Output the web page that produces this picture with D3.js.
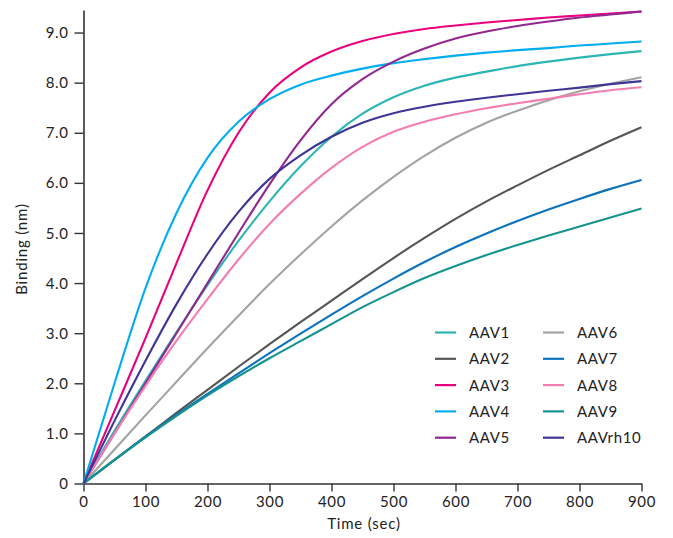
<!DOCTYPE html>
<html>
<head>
<meta charset="utf-8">
<script src="https://cdn.jsdelivr.net/npm/d3@7/dist/d3.min.js"></script>
<style>
  html, body { margin: 0; padding: 0; background: #fff; }
  svg { display: block; font-family: "Lato", "Inter", sans-serif; }
</style>
</head>
<body>
<svg id="chart" width="673" height="538"></svg>
<script>
// ---- data ----
const times = [0, 50, 100, 150, 200, 250, 300, 350, 400, 450, 500, 550, 600, 650, 700, 750, 800, 850, 900];
const seriesNames = ["AAV1", "AAV2", "AAV3", "AAV4", "AAV5", "AAV6", "AAV7", "AAV8", "AAV9", "AAVrh10"];
const seriesColors = ["#2bb5b3", "#555555", "#e8007d", "#00aeef", "#92278f", "#a3a3a3", "#0b72bd", "#f27eb1", "#14938f", "#3e3594"];
const aav1 = [0, 1.05, 2.05, 3.02, 3.96, 4.84, 5.63, 6.33, 6.92, 7.38, 7.71, 7.94, 8.1, 8.22, 8.33, 8.42, 8.5, 8.57, 8.63];
const aav2 = [0, 0.47, 0.94, 1.41, 1.87, 2.33, 2.78, 3.22, 3.65, 4.08, 4.5, 4.9, 5.28, 5.63, 5.95, 6.26, 6.55, 6.84, 7.11];
const aav3 = [0, 1.45, 2.9, 4.4, 5.85, 7.0, 7.8, 8.3, 8.62, 8.83, 8.97, 9.07, 9.14, 9.2, 9.25, 9.3, 9.34, 9.38, 9.42];
const aav4 = [0, 2.0, 3.9, 5.4, 6.5, 7.22, 7.67, 7.96, 8.14, 8.28, 8.39, 8.47, 8.54, 8.6, 8.65, 8.69, 8.74, 8.78, 8.82];
const aav5 = [0, 1.0, 2.0, 3.0, 4.0, 5.0, 5.97, 6.85, 7.57, 8.07, 8.42, 8.68, 8.88, 9.02, 9.13, 9.22, 9.3, 9.36, 9.42];
const aav6 = [0, 0.68, 1.36, 2.03, 2.7, 3.35, 3.98, 4.57, 5.13, 5.65, 6.12, 6.54, 6.9, 7.2, 7.44, 7.65, 7.83, 7.98, 8.11];
const aav7 = [0, 0.47, 0.93, 1.37, 1.79, 2.2, 2.6, 2.99, 3.37, 3.74, 4.09, 4.42, 4.72, 4.99, 5.24, 5.47, 5.68, 5.88, 6.06];
const aav8 = [0, 1.0, 1.95, 2.85, 3.68, 4.47, 5.18, 5.78, 6.3, 6.72, 7.02, 7.22, 7.37, 7.49, 7.59, 7.68, 7.77, 7.85, 7.91];
const aav9 = [0, 0.47, 0.92, 1.35, 1.76, 2.14, 2.5, 2.84, 3.18, 3.52, 3.82, 4.1, 4.34, 4.56, 4.76, 4.95, 5.13, 5.31, 5.49];
const aavrh10 = [0, 1.25, 2.45, 3.58, 4.58, 5.42, 6.08, 6.55, 6.92, 7.2, 7.39, 7.52, 7.62, 7.7, 7.77, 7.84, 7.9, 7.97, 8.03];
const seriesValues = [aav1, aav2, aav3, aav4, aav5, aav6, aav7, aav8, aav9, aavrh10];
const xTicks = [0, 100, 200, 300, 400, 500, 600, 700, 800, 900];
const yTicks = [0, 1, 2, 3, 4, 5, 6, 7, 8, 9];
const xTitle = "Time (sec)";
const yTitle = "Binding (nm)";

// ---- layout ----
const svg = d3.select("#chart");
const x = d3.scaleLinear().domain([0, 900]).range([83.5, 641.5]);
const y = d3.scaleLinear().domain([0, 9.45]).range([483.5, 10]);
const font = "Lato, Inter, sans-serif";

// axes
const xAxis = svg.append("g").attr("transform", `translate(0,${y(0)})`)
  .call(d3.axisBottom(x).tickValues(xTicks).tickSize(8).tickPadding(5).tickSizeOuter(0).tickFormat(d3.format("d")));
const yAxis = svg.append("g").attr("transform", `translate(${x(0)},0)`)
  .call(d3.axisLeft(y).tickValues(yTicks).tickSize(9).tickPadding(6).tickSizeOuter(0)
    .tickFormat(d => d === 0 ? "0" : d3.format(".1f")(d)));
[xAxis, yAxis].forEach(a => {
  a.select(".domain").attr("stroke", "#333").attr("stroke-width", 1.6);
  a.selectAll(".tick line").attr("stroke", "#333").attr("stroke-width", 1.4);
  a.selectAll(".tick text").attr("fill", "#222").style("font-family", font)
    .style("font-size", "15px").style("letter-spacing", "0.6px");
});
yAxis.selectAll(".tick text").attr("dy", "0.34em");

// lines
const line = d3.line().x((d, i) => x(times[i])).y(d => y(d)).curve(d3.curveMonotoneX);
seriesValues.forEach((vals, k) => {
  svg.append("path").datum(vals)
    .attr("d", line)
    .attr("fill", "none")
    .attr("stroke", seriesColors[k])
    .attr("stroke-width", 2.1)
    .attr("stroke-linejoin", "round");
});

// titles
svg.append("text").attr("x", 364).attr("y", 529).attr("text-anchor", "middle")
  .style("font-family", font).style("font-size", "15px").style("letter-spacing", "0.8px")
  .attr("fill", "#222").text(xTitle);
svg.append("text").attr("transform", "translate(27,249) rotate(-90)").attr("text-anchor", "middle")
  .style("font-family", font).style("font-size", "15px").style("letter-spacing", "0.8px")
  .attr("fill", "#222").text(yTitle);

// legend
const legend = svg.append("g");
seriesNames.forEach((name, k) => {
  const col = k < 5 ? 0 : 1;
  const row = k % 5;
  const lx = col === 0 ? 435 : 543;
  const ly = 332.5 + row * 26.3;
  legend.append("line").attr("x1", lx).attr("x2", lx + 21).attr("y1", ly).attr("y2", ly)
    .attr("stroke", seriesColors[k]).attr("stroke-width", 2.2);
  legend.append("text").attr("x", lx + 34).attr("y", ly).attr("dy", "0.36em")
    .style("font-family", font).style("font-size", "15px").style("letter-spacing", "0.6px")
    .attr("fill", "#222").text(name);
});
</script>
</body>
</html>
